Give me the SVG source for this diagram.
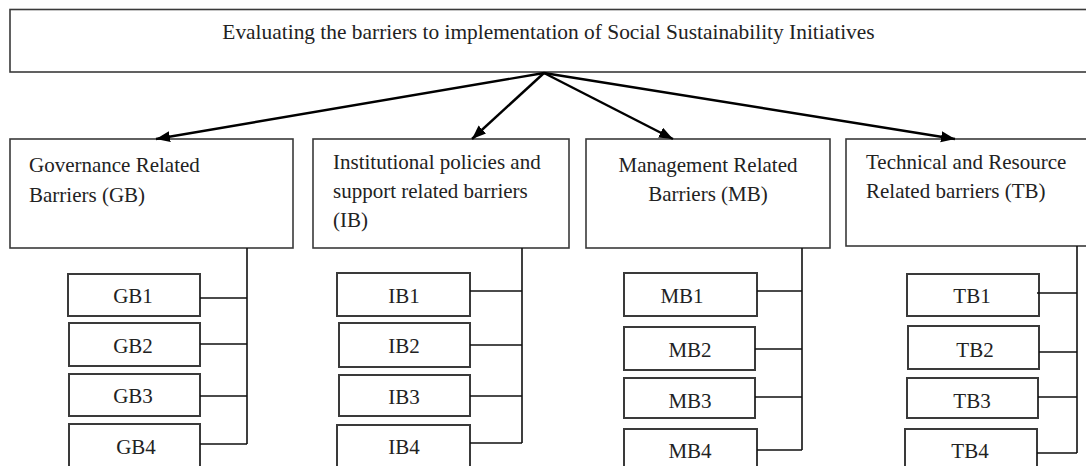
<svg xmlns="http://www.w3.org/2000/svg" width="1086" height="466" viewBox="0 0 1086 466">
<defs>
<marker id="ah" markerUnits="userSpaceOnUse" markerWidth="16" markerHeight="12" refX="14" refY="5.5" orient="auto">
<path d="M0,0 L14,5.5 L0,11 z" fill="#000"/>
</marker>
<style>
.box{fill:#fff;stroke:#3a3a3a;stroke-width:1.6}
.leaf{fill:#fff;stroke:#3a3a3a;stroke-width:2}
.t{font-family:"Liberation Serif","Times New Roman",serif;font-size:21px;fill:#222}
.c{text-anchor:middle}
.arr{stroke:#000;stroke-width:2.4;fill:none;marker-end:url(#ah)}
.ln{stroke:#111;stroke-width:1.6;fill:none}
</style>
</defs>
<rect width="1086" height="466" fill="#fff"/>
<g id="root">
<rect class="box" x="10" y="9.5" width="1090" height="62.5"/>
<text class="t c" x="548.5" y="39" style="font-size:21.4px">Evaluating the barriers to implementation of Social Sustainability Initiatives</text>
</g>
<g id="GB">
<rect class="box" x="10" y="139" width="283" height="109"/>
<text class="t" x="29" y="172">Governance Related</text>
<text class="t" x="29" y="202">Barriers (GB)</text>
</g>
<g id="IB">
<rect class="box" x="313" y="139" width="256" height="109"/>
<text class="t" x="333" y="169">Institutional policies and</text>
<text class="t" x="333" y="198">support related barriers</text>
<text class="t" x="333" y="227">(IB)</text>
</g>
<g id="MB">
<rect class="box" x="586" y="139" width="244" height="109"/>
<text class="t c" x="708" y="172">Management Related</text>
<text class="t c" x="708" y="201">Barriers (MB)</text>
</g>
<g id="TB">
<rect class="box" x="846" y="139" width="250" height="107"/>
<text class="t" x="866" y="169">Technical and Resource</text>
<text class="t" x="866" y="198">Related barriers (TB)</text>
</g>
<g id="GB1"><rect class="leaf" x="68" y="274" width="132" height="42"/><text class="t c" x="133" y="303">GB1</text></g>
<g id="GB2"><rect class="leaf" x="69" y="323" width="131" height="43"/><text class="t c" x="133" y="353">GB2</text></g>
<g id="GB3"><rect class="leaf" x="69" y="374" width="131" height="42"/><text class="t c" x="133" y="403">GB3</text></g>
<g id="GB4"><rect class="leaf" x="69" y="424" width="131" height="50"/><text class="t c" x="136" y="454">GB4</text></g>
<g id="IB1"><rect class="leaf" x="337" y="273" width="133" height="43"/><text class="t c" x="404" y="303">IB1</text></g>
<g id="IB2"><rect class="leaf" x="339" y="323" width="131" height="44"/><text class="t c" x="404" y="353">IB2</text></g>
<g id="IB3"><rect class="leaf" x="339" y="375" width="131" height="41"/><text class="t c" x="404" y="404">IB3</text></g>
<g id="IB4"><rect class="leaf" x="337" y="425" width="133" height="50"/><text class="t c" x="404" y="454">IB4</text></g>
<g id="MB1"><rect class="leaf" x="624" y="273" width="133" height="43"/><text class="t c" x="682" y="303">MB1</text></g>
<g id="MB2"><rect class="leaf" x="624" y="327" width="131" height="43"/><text class="t c" x="690" y="357">MB2</text></g>
<g id="MB3"><rect class="leaf" x="624" y="378" width="131" height="40"/><text class="t c" x="690" y="408">MB3</text></g>
<g id="MB4"><rect class="leaf" x="624" y="429" width="133" height="50"/><text class="t c" x="690" y="458">MB4</text></g>
<g id="TB1"><rect class="leaf" x="907" y="274" width="132" height="42"/><text class="t c" x="972" y="303">TB1</text></g>
<g id="TB2"><rect class="leaf" x="908" y="326" width="131" height="43"/><text class="t c" x="975" y="357">TB2</text></g>
<g id="TB3"><rect class="leaf" x="907" y="378" width="131" height="40"/><text class="t c" x="972" y="408">TB3</text></g>
<g id="TB4"><rect class="leaf" x="905" y="429" width="132" height="50"/><text class="t c" x="970" y="458">TB4</text></g>
<g id="connectors">
<line class="arr" x1="544" y1="73" x2="156" y2="139"/>
<line class="arr" x1="544" y1="73" x2="472" y2="139"/>
<line class="arr" x1="544" y1="73" x2="673" y2="139"/>
<line class="arr" x1="544" y1="73" x2="955" y2="139"/>
<path class="ln" d="M247,248 V444 M200,298 H247 M200,344 H247 M200,396 H247 M200,444 H247"/>
<path class="ln" d="M522,248 V443 M470,291 H522 M470,345 H522 M470,396 H522 M470,443 H522"/>
<path class="ln" d="M802,248 V450 M757,291 H802 M755,349 H802 M755,397 H802 M757,450 H802"/>
<path class="ln" d="M1077,246 V453 M1037,293 H1077 M1039,352 H1077 M1038,397 H1077 M1037,453 H1077"/>
</g>
</svg>
